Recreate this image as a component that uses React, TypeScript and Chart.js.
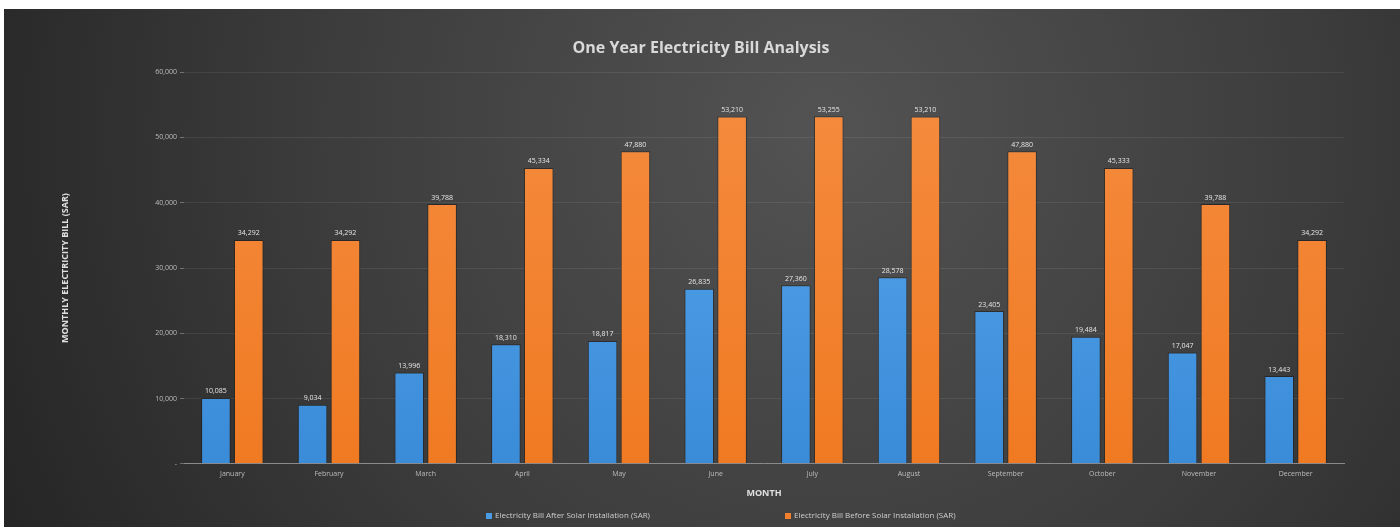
import React, { useEffect, useRef } from "react";
import { Chart, registerables } from "chart.js";

Chart.register(...registerables);

const months = [
  "January", "February", "March", "April", "May", "June",
  "July", "August", "September", "October", "November", "December",
];
const afterSolar = [10085, 9034, 13996, 18310, 18817, 26835, 27360, 28578, 23405, 19484, 17047, 13443];
const beforeSolar = [34292, 34292, 39788, 45334, 47880, 53210, 53255, 53210, 47880, 45333, 39788, 34292];
const seriesLabels = [
  "Electricity Bill After Solar Installation (SAR)",
  "Electricity Bill Before Solar Installation (SAR)",
];
const yTicksMax = 60000;
const yTickStep = 10000;

const FONT = "'Open Sans', 'Liberation Sans', sans-serif";

const bgPlugin = {
  id: "bgGradient",
  beforeDraw(chart: any) {
    const { ctx, width, height } = chart;
    ctx.save();
    const g = ctx.createRadialGradient(820, 120, 20, 820, 120, 900);
    g.addColorStop(0, "#525252");
    g.addColorStop(0.55, "#3c3c3c");
    g.addColorStop(1, "#262626");
    ctx.fillStyle = g;
    ctx.fillRect(0, 0, width, height);
    ctx.restore();
  },
};

const valueLabelPlugin = {
  id: "valueLabels",
  afterDatasetsDraw(chart: any) {
    const { ctx } = chart;
    ctx.save();
    ctx.font = `7px ${FONT}`;
    ctx.textAlign = "center";
    ctx.textBaseline = "bottom";
    ctx.fillStyle = "#e6e6e6";
    chart.data.datasets.forEach((ds: any, i: number) => {
      const meta = chart.getDatasetMeta(i);
      meta.data.forEach((bar: any, j: number) => {
        const v = ds.data[j];
        ctx.fillText(Number(v).toLocaleString("en-US"), bar.x, bar.y - 3);
      });
    });
    ctx.restore();
  },
};

const customLegendPlugin = {
  id: "customLegend",
  afterDraw(chart: any) {
    const { ctx, height } = chart;
    ctx.save();
    ctx.font = `8px ${FONT}`;
    ctx.textBaseline = "middle";
    const y = height - 11;
    const starts = [482, 781];
    chart.data.datasets.forEach((ds: any, i: number) => {
      const x = starts[i];
      ctx.fillStyle = ds.legendColor;
      ctx.fillRect(x, y - 3, 6, 6);
      ctx.fillStyle = "#cfcfcf";
      ctx.textAlign = "left";
      ctx.fillText(ds.label, x + 9, y);
    });
    ctx.restore();
  },
};

function makeGradient(chart: any, top: string, bottom: string) {
  const area = chart.chartArea;
  if (!area) return top;
  const g = chart.ctx.createLinearGradient(0, area.top, 0, area.bottom);
  g.addColorStop(0, top);
  g.addColorStop(1, bottom);
  return g;
}

export default function App() {
  const ref = useRef<HTMLCanvasElement | null>(null);
  useEffect(() => {
    if (!ref.current) return;
    const chart = new Chart(ref.current, {
      type: "bar",
      data: {
        labels: months,
        datasets: [
          {
            label: seriesLabels[0],
            data: afterSolar,
            legendColor: "#4a9be3",
            backgroundColor: (c: any) => makeGradient(c.chart, "#5aaaf0", "#3a8bd8"),
            borderColor: "rgba(20,20,20,0.5)",
            borderWidth: 1,
            categoryPercentage: 0.68,
            barPercentage: 0.9,
          } as any,
          {
            label: seriesLabels[1],
            data: beforeSolar,
            legendColor: "#f27f2c",
            backgroundColor: (c: any) => makeGradient(c.chart, "#f58c40", "#f07a22"),
            borderColor: "rgba(20,20,20,0.5)",
            borderWidth: 1,
            categoryPercentage: 0.68,
            barPercentage: 0.9,
          } as any,
        ],
      },
      options: {
        responsive: true,
        maintainAspectRatio: false,
        animation: false,
        layout: { padding: { left: 54, right: 56, top: 0, bottom: 28 } },
        plugins: {
          legend: { display: false },
          tooltip: { enabled: false },
          title: {
            display: true,
            text: "One Year Electricity Bill Analysis",
            color: "#d9d9d9",
            font: { family: FONT, size: 16, weight: "bold" },
            padding: { top: 30, bottom: 14 },
          },
        },
        scales: {
          x: {
            grid: { display: false, drawTicks: false },
            border: { display: true, color: "#8a8a8a", width: 1 },
            ticks: { color: "#bdbdbd", font: { family: FONT, size: 7 }, padding: 6, maxRotation: 0 },
            title: {
              display: true,
              text: "MONTH",
              color: "#e0e0e0",
              font: { family: FONT, size: 9, weight: "bold" },
              padding: { top: 4, bottom: 0 },
            },
          },
          y: {
            min: 0,
            max: yTicksMax,
            afterFit(scale: any) {
              scale.width = 126;
            },
            grid: { color: "rgba(255,255,255,0.08)", tickLength: 4, tickColor: "rgba(255,255,255,0.3)" },
            border: { display: false },
            ticks: {
              stepSize: yTickStep,
              color: "#bdbdbd",
              font: { family: FONT, size: 7 },
              padding: 3,
              callback: (v: any) => (v === 0 ? "-" : Number(v).toLocaleString("en-US")),
            },
            title: {
              display: true,
              text: "MONTHLY ELECTRICITY BILL (SAR)",
              color: "#e0e0e0",
              font: { family: FONT, size: 9, weight: "bold" },
              padding: { top: 2, bottom: 0 },
            },
          },
        },
      } as any,
      plugins: [bgPlugin, valueLabelPlugin, customLegendPlugin],
    });
    return () => chart.destroy();
  }, []);

  return (
    <div style={{ position: "absolute", left: 4, top: 9, width: 1396, height: 518 }}>
      <canvas ref={ref} />
    </div>
  );
}
